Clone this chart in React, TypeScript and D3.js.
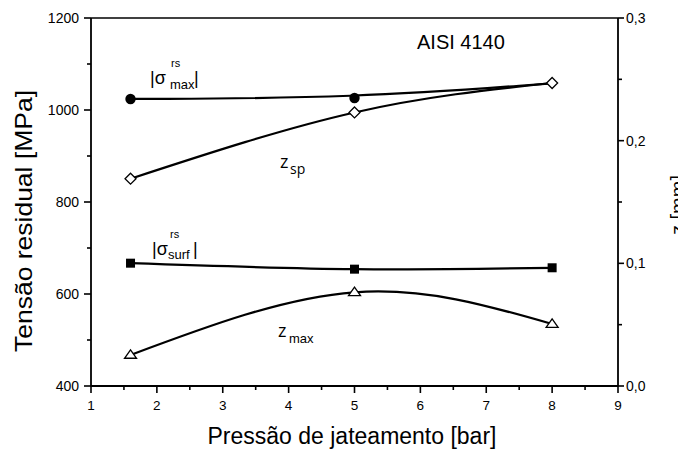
import React from "react";
import * as d3 from "d3";

// ---- data ----
const pressures = [1.6, 5, 8]; // bar
const sigmaMax = [1024, 1026, 1058]; // MPa  |σ rs max|
const sigmaMaxMarkerVisible = [true, true, false]; // last one hidden under the z_sp marker
const sigmaSurf = [667, 654, 657]; // MPa  |σ rs surf|
const zSp = [0.169, 0.223, 0.247]; // mm
const zMax = [0.0253, 0.0764, 0.0505]; // mm

const xTicks = [1, 2, 3, 4, 5, 6, 7, 8, 9];
const xMinor = [1.5, 2.5, 3.5, 4.5, 5.5, 6.5, 7.5, 8.5];
const yLeftTicks = [400, 600, 800, 1000, 1200];
const yLeftMinor = [500, 700, 900, 1100];
const yRightTicks = [0, 0.1, 0.2, 0.3];
const yRightMinor = [0.05, 0.15, 0.25];

const W = 678;
const H = 452;
const X0 = 91, X1 = 618, Y0 = 18, Y1 = 386;
const SANS = "'Liberation Sans', Arial, sans-serif";
const CAL = "'Open Sans', 'Liberation Sans', sans-serif";

export default function App() {
  const x = d3.scaleLinear().domain([1, 9]).range([X0, X1]);
  const yL = d3.scaleLinear().domain([400, 1200]).range([Y1, Y0]);
  const yR = d3.scaleLinear().domain([0, 0.3]).range([Y1, Y0]);

  const curve = (vals: number[], y: (v: number) => number, c: d3.CurveFactory) =>
    d3
      .line<number>()
      .x((_, i) => x(pressures[i]))
      .y((v) => y(v))
      .curve(c)(vals) || "";

  const fmtR = (v: number) => d3.format(".1f")(v).replace(".", ",");

  const diamond = (cx: number, cy: number, r: number) =>
    `M${cx},${cy - r}L${cx + r},${cy}L${cx},${cy + r}L${cx - r},${cy}Z`;
  const triangle = (cx: number, cy: number, s: number) =>
    `M${cx},${cy - s * 0.85}L${cx + s},${cy + s * 0.55}L${cx - s},${cy + s * 0.55}Z`;

  return (
    <div style={{ position: "absolute", left: 0, top: 0 }}>
      <svg width={W} height={H} style={{ display: "block", background: "#fff" }}>
        {/* frame */}
        <line x1={X0} y1={Y0} x2={X1} y2={Y0} stroke="#000" strokeWidth={1.6} />
        <line x1={X0} y1={Y0} x2={X0} y2={Y1} stroke="#000" strokeWidth={1.8} />
        <line x1={X1} y1={Y0} x2={X1} y2={Y1} stroke="#000" strokeWidth={1.8} />
        <line x1={X0} y1={Y1} x2={X1} y2={Y1} stroke="#000" strokeWidth={1.8} />

        {/* x ticks */}
        {xTicks.map((t) => (
          <g key={"xt" + t}>
            <line x1={x(t)} x2={x(t)} y1={Y1} y2={Y1 + 7} stroke="#000" strokeWidth={1.6} />
            <text x={x(t)} y={410} textAnchor="middle" fontFamily={SANS} fontSize={13.5}>
              {t}
            </text>
          </g>
        ))}
        {xMinor.map((t) => (
          <line key={"xm" + t} x1={x(t)} x2={x(t)} y1={Y1} y2={Y1 + 4} stroke="#000" strokeWidth={1.6} />
        ))}

        {/* left ticks */}
        {yLeftTicks.map((t) => (
          <g key={"yl" + t}>
            <line x1={X0 - 7} x2={X0} y1={yL(t)} y2={yL(t)} stroke="#000" strokeWidth={1.6} />
            <text x={79} y={yL(t)} dy="0.36em" textAnchor="end" fontFamily={SANS} fontSize={14}>
              {t}
            </text>
          </g>
        ))}
        {yLeftMinor.map((t) => (
          <line key={"ylm" + t} x1={X0 - 4} x2={X0} y1={yL(t)} y2={yL(t)} stroke="#000" strokeWidth={1.6} />
        ))}

        {/* right ticks */}
        {yRightTicks.map((t) => (
          <g key={"yr" + t}>
            <line x1={X1} x2={X1 + 6} y1={yR(t)} y2={yR(t)} stroke="#000" strokeWidth={1.6} />
            <text x={626} y={yR(t)} dy="0.36em" textAnchor="start" fontFamily={SANS} fontSize={14}>
              {fmtR(t)}
            </text>
          </g>
        ))}
        {yRightMinor.map((t) => (
          <line key={"yrm" + t} x1={X1} x2={X1 + 4} y1={yR(t)} y2={yR(t)} stroke="#000" strokeWidth={1.6} />
        ))}

        {/* axis titles */}
        <text
          transform={`translate(32,221) rotate(-90)`}
          textAnchor="middle"
          fontFamily={SANS}
          fontSize={24}
          textLength={262}
          lengthAdjust="spacingAndGlyphs"
        >
          Tensão residual [MPa]
        </text>
        <text x={352} y={444} textAnchor="middle" fontFamily={SANS} fontSize={23}>
          Pressão de jateamento [bar]
        </text>
        <text
          transform={`translate(685,205) rotate(-90)`}
          textAnchor="middle"
          fontFamily={SANS}
          fontSize={20}
        >
          z [mm]
        </text>

        {/* series lines */}
        <path d={curve(sigmaMax, yL, d3.curveBasis)} fill="none" stroke="#000" strokeWidth={2.2} />
        <path d={curve(zSp, yR, d3.curveNatural)} fill="none" stroke="#000" strokeWidth={2.2} />
        <path d={curve(sigmaSurf, yL, d3.curveNatural)} fill="none" stroke="#000" strokeWidth={2.2} />
        <path d={curve(zMax, yR, d3.curveNatural)} fill="none" stroke="#000" strokeWidth={2.2} />

        {/* markers */}
        {sigmaMax.map((v, i) =>
          sigmaMaxMarkerVisible[i] ? (
            <circle key={"sm" + i} cx={x(pressures[i])} cy={yL(v)} r={5.2} fill="#000" />
          ) : null
        )}
        {zSp.map((v, i) => (
          <path key={"zs" + i} d={diamond(x(pressures[i]), yR(v), 5.5)} fill="#fff" stroke="#000" strokeWidth={1.3} />
        ))}
        {sigmaSurf.map((v, i) => (
          <rect key={"ss" + i} x={x(pressures[i]) - 4.5} y={yL(v) - 4.5} width={9} height={9} fill="#000" />
        ))}
        {zMax.map((v, i) => (
          <path key={"zm" + i} d={triangle(x(pressures[i]), yR(v), 6)} fill="#fff" stroke="#000" strokeWidth={1.3} />
        ))}

        {/* annotations */}
        <text x={417} y={49} fontFamily={SANS} fontSize={20}>AISI 4140</text>

        <text x={150} y={84} fontFamily={SANS} fontSize={18}>|σ</text>
        <text x={171} y={67} fontFamily={SANS} fontSize={11}>rs</text>
        <text x={170} y={89} fontFamily={SANS} fontSize={13}>max</text>
        <text x={194} y={84} fontFamily={SANS} fontSize={18}>|</text>

        <text x={280} y={168} fontFamily={CAL} fontSize={18}>z</text>
        <text x={290} y={174} fontFamily={CAL} fontSize={14}>sp</text>

        <text x={152} y={255} fontFamily={SANS} fontSize={18}>|σ</text>
        <text x={170} y={238} fontFamily={SANS} fontSize={11}>rs</text>
        <text x={168} y={259} fontFamily={SANS} fontSize={13}>surf</text>
        <text x={193} y={255} fontFamily={SANS} fontSize={18}>|</text>

        <text x={278} y={337} fontFamily={CAL} fontSize={18}>z</text>
        <text x={289} y={343} fontFamily={SANS} fontSize={13}>max</text>
      </svg>
    </div>
  );
}
